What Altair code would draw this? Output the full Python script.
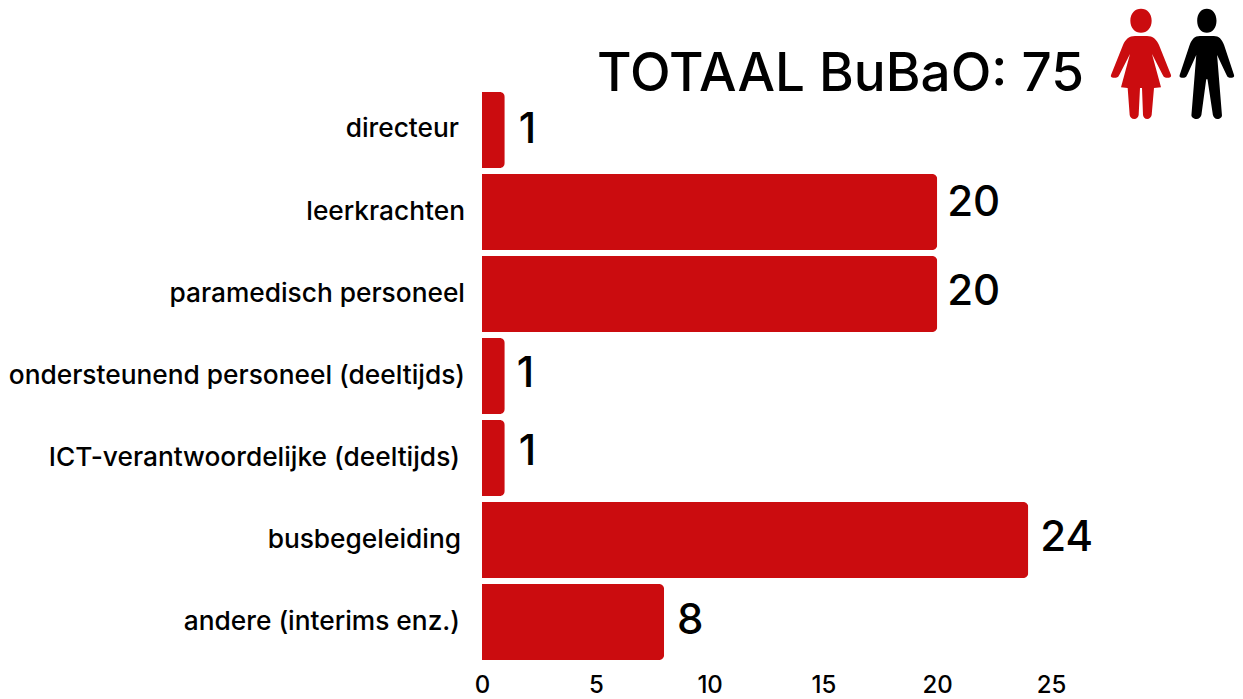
import re
import altair as alt
import pandas as pd

categories = ["directeur", "leerkrachten", "paramedisch personeel",
              "ondersteunend personeel (deeltijds)", "ICT-verantwoordelijke (deeltijds)",
              "busbegeleiding", "andere (interims enz.)"]
values = [1, 20, 20, 1, 1, 24, 8]
x_ticks = [0, 5, 10, 15, 20, 25]
title_text = "TOTAAL BuBaO: 75"

# hand placement of the labels, as in the reference (pixels)
cat_right = [-23, -17, -17, -17, -22, -21, -22]
cat_dy = [-1, 0, 0, 0, 0, 0, 0]
val_dx = [14, 10, 10, 12, 14, 12, 13]
val_dy = [0, -9, -2, -2, -6, -2, -1]

RED = "#cb0c0f"
FONT = "Inter"
W, H = 569, 574
LEFT, TOP = 474, 81

df = pd.DataFrame({"cat": categories, "val": values})
x_enc = alt.X("val:Q", scale=alt.Scale(domain=[0, 25], nice=False),
              axis=alt.Axis(values=x_ticks, title=None, grid=False, domain=False, ticks=False,
                            labelFontSize=24, labelFont=FONT, labelColor="#000", labelPadding=10,
                            labelFontWeight=500, labelOverlap=False, labelFlush=False, format="d"))
y_enc = alt.Y("cat:N", sort=categories,
              scale=alt.Scale(paddingInner=6 / 82, paddingOuter=3 / 82), axis=None)

layers = [alt.Chart(df).mark_bar(color=RED, cornerRadiusEnd=5).encode(x=x_enc, y=y_enc)]
for c, r, d, vx, vy in zip(categories, cat_right, cat_dy, val_dx, val_dy):
    sub = alt.Chart(df).transform_filter(alt.datum.cat == c)
    layers.append(sub.mark_text(align="right", baseline="middle", font=FONT, fontSize=26.3,
                                fontWeight=500, color="#000", dy=d)
                  .encode(x=alt.value(r), y=y_enc, text="cat:N"))
    layers.append(sub.mark_text(align="left", baseline="middle", font=FONT, fontSize=42,
                                fontWeight=500, color="#000", dx=vx, dy=vy)
                  .encode(x=alt.X("val:Q"), y=y_enc, text="val:Q"))

title = alt.Chart(pd.DataFrame({"t": [title_text]})).mark_text(
    align="right", baseline="middle", font=FONT, fontSize=53, fontWeight=500, color="#000"
).encode(x=alt.value(1084 - 482), y=alt.value(75 - 89), text="t:N")

WOMAN = ("M121 62C121 40 135 26 153 26C171 26 185 40 185 62C185 84 171 98 153 98C135 98 121 84 121 62Z"
         "M135 108L171 108C188 108 200 118 207 135L243 225C245 231 240 233 236 233L228 233C222 233 220 229 217 223"
         "L186 162L213 262L192 264L185 345C184 352 178 357 172 357C164 357 160 352 159 345L156 264L150 264L146 345"
         "C145 352 140 357 133 357C125 357 120 352 119 345L113 264L93 262L120 162L89 223C86 229 84 233 78 233L70 233"
         "C65 233 61 231 63 225L99 135C106 118 118 108 135 108Z")
MAN = ("M336 62C336 40 350 26 368 26C386 26 400 40 400 62C400 84 386 98 368 98C350 98 336 84 336 62Z"
       "M345 108L391 108C408 108 418 118 425 135L458 225C460 231 455 233 451 233L443 233C437 233 435 229 432 223"
       "L402 165L418 345C419 352 412 357 403 357C395 357 390 352 388 345L370 238L366 238L350 345C348 352 342 357 334 357"
       "C325 357 316 352 317 345L333 165L304 223C301 229 299 233 293 233L285 233C280 233 276 231 278 225L311 135"
       "C318 118 328 108 345 108Z")
CORNER = "M0 0L40 0C32 18 18 32 0 42Z"


def squeeze(path, left, factor, shift):
    """Narrow a path so the figure stays inside the 1227px wide page area."""
    nums = iter(range(10 ** 6))

    def repl(m):
        v = float(m.group())
        if next(nums) % 2 == 0:
            v = left + (v - left) * factor + shift
        return f"{v:.1f}"
    return re.sub(r"\d+(?:\.\d+)?", repl, path)


def glyph(path, color, px, py, size=(2 / 3) ** 2):
    return alt.Chart(pd.DataFrame({"k": [0]})).mark_point(
        shape=path, size=size, filled=True, fill=color, stroke=None, opacity=1
    ).encode(x=alt.value(px - 482), y=alt.value(py - 89))


chart = alt.layer(
    *layers, title,
    glyph(WOMAN, RED, 1090, 0), glyph(squeeze(MAN, 278, 0.906, -9), "#000000", 1090, 0),
    glyph(CORNER, "#000000", 0, 0),
).properties(
    width=W, height=H,
    padding={"left": LEFT, "top": TOP, "right": 1227 - LEFT - W, "bottom": 691 - TOP - H},
    autosize=alt.AutoSizeParams(type="none"),
    background="#ffffff",
).configure_view(stroke=None)

chart.save("out.html", embed_options={"renderer": "svg", "actions": False})
